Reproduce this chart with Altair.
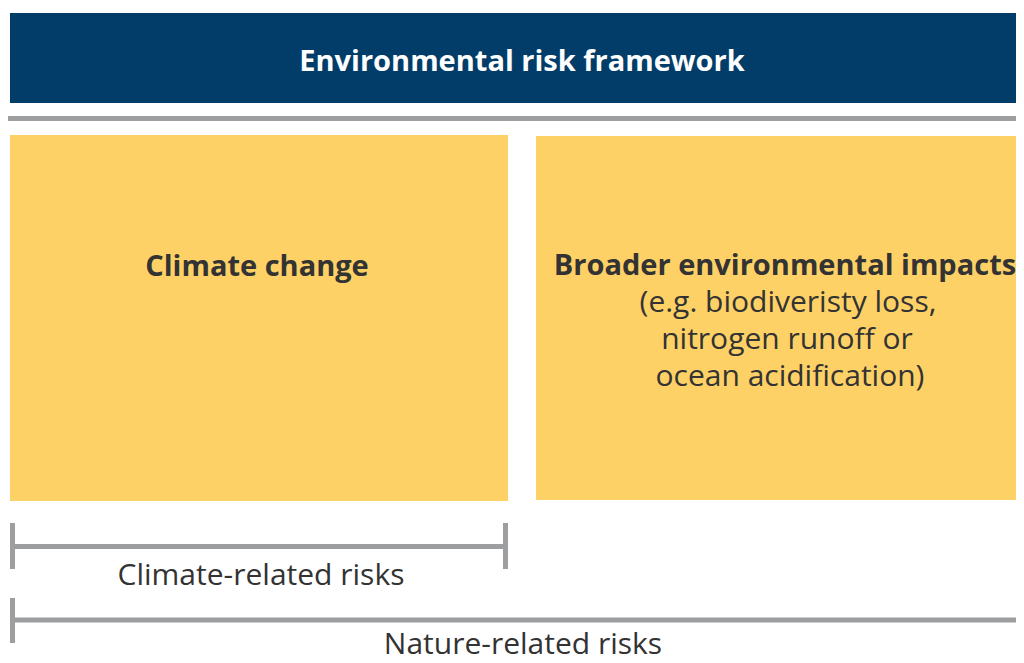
import altair as alt
import pandas as pd

# Boxes (image pixel coordinates)
box_names = ["header", "climate", "broader"]
box_x1 = [10, 10, 536]
box_x2 = [1030, 508, 1030]
box_y1 = [13, 135, 136]
box_y2 = [103, 501, 500]
box_colors = ["#023d69", "#fdd166", "#fdd166"]

# Lines: separator and brackets
line_x1 = [8, 12.5, 12.5, 505.5, 12.5, 12.5]
line_x2 = [1030, 505.5, 12.5, 505.5, 1030, 12.5]
line_y1 = [118.5, 546.5, 523, 523, 620, 598]
line_y2 = [118.5, 546.5, 569, 569, 620, 643]

# Bold texts
bold_text = ["Environmental risk framework", "Climate change", "Broader environmental impacts"]
bold_x = [522, 257, 785]
bold_y = [71, 276, 275]
bold_color = ["#ffffff", "#333333", "#333333"]

# Regular texts
reg_text = ["(e.g. biodiveristy loss,", "nitrogen runoff or ", "ocean acidification)",
            "Climate-related risks", "Nature-related risks"]
reg_x = [788, 787, 790, 261, 523]
reg_y = [312, 349, 386, 585, 654]

W, H = 1008, 647
xs = alt.Scale(domain=[8, 8 + W], nice=False, zero=False)
ys = alt.Scale(domain=[8, 8 + H], nice=False, zero=False, reverse=True)

boxes = pd.DataFrame({"name": box_names, "x1": box_x1, "x2": box_x2,
                      "y1": box_y1, "y2": box_y2, "c": box_colors})
lines = pd.DataFrame({"x1": line_x1, "x2": line_x2, "y1": line_y1, "y2": line_y2})
bold = pd.DataFrame({"t": bold_text, "x": bold_x, "y": bold_y, "c": bold_color})
reg = pd.DataFrame({"t": reg_text, "x": reg_x, "y": reg_y})

rects = alt.Chart(boxes).mark_rect(clip=True).encode(
    x=alt.X("x1:Q", scale=xs, axis=None),
    x2="x2:Q",
    y=alt.Y("y1:Q", scale=ys, axis=None),
    y2="y2:Q",
    color=alt.Color("c:N", scale=None),
)

rules = alt.Chart(lines).mark_rule(color="#9c9e9f", strokeWidth=5, clip=True).encode(
    x=alt.X("x1:Q", scale=xs, axis=None),
    x2="x2:Q",
    y=alt.Y("y1:Q", scale=ys, axis=None),
    y2="y2:Q",
)

btext = alt.Chart(bold).mark_text(font="Open Sans", fontWeight="bold", fontSize=29,
                                  align="center", baseline="alphabetic").encode(
    x=alt.X("x:Q", scale=xs, axis=None),
    y=alt.Y("y:Q", scale=ys, axis=None),
    text="t:N",
    color=alt.Color("c:N", scale=None),
)

rtext = alt.Chart(reg).mark_text(font="Open Sans", fontSize=30, color="#333333",
                                 align="center", baseline="alphabetic").encode(
    x=alt.X("x:Q", scale=xs, axis=None),
    y=alt.Y("y:Q", scale=ys, axis=None),
    text="t:N",
)

chart = alt.layer(rects, rules, btext, rtext).properties(
    width=W, height=H, padding=0, autosize=alt.AutoSizeParams(type="none")
).configure_view(stroke=None)

chart.save("out.html", embed_options={"renderer": "svg", "actions": False})
